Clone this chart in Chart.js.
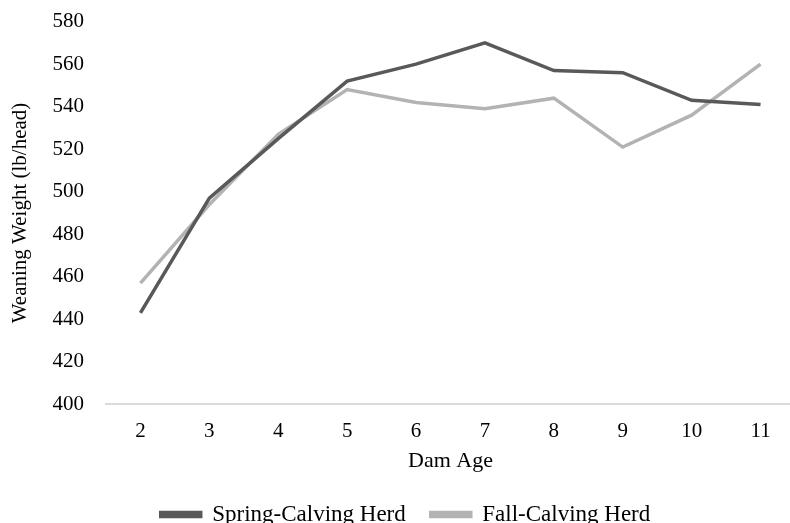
<!DOCTYPE html>
<html>
<head>
<meta charset="utf-8">
<script src="https://cdn.jsdelivr.net/npm/chart.js@4"></script>
<style>
html,body{margin:0;padding:0;background:#fff;overflow:hidden}
#wrap{position:absolute;left:0;top:-13px;width:795px;height:549px}
</style>
</head>
<body>
<div id="wrap"><canvas id="grafico" width="795" height="549"></canvas></div>
<script>
let idades=['2','3','4','5','6','7','8','9','10','11']
let pesoPrimavera=[443,497,525,552,560,570,557,556,543,541]
let pesoOutono=[457,494,527,548,542,539,544,521,536,560]
let ticksY=[400,420,440,460,480,500,520,540,560,580]

let familia='"Liberation Serif","Times New Roman",serif'

new Chart(document.getElementById('grafico'),{
type:'line',
data:{
labels:idades,
datasets:[{
label:'Spring-Calving Herd',
data:pesoPrimavera,
borderColor:'#595959',
backgroundColor:'#595959',
borderWidth:3.5,
pointRadius:0,
tension:0
},{
label:'Fall-Calving Herd',
data:pesoOutono,
borderColor:'#b3b3b3',
backgroundColor:'#b3b3b3',
borderWidth:3.5,
pointRadius:0,
tension:0
}]
},
options:{
responsive:false,
animation:false,
layout:{padding:{top:0,right:0,left:16,bottom:0}},
scales:{
x:{
offset:true,
grid:{display:false,drawTicks:false},
border:{display:true,color:'#d9d9d9',width:2},
ticks:{color:'#000',font:{family:familia,size:21},padding:14},
title:{display:true,text:'Dam Age',color:'#000',font:{family:familia,size:22},padding:{top:-10,bottom:4}}
},
y:{
min:ticksY[0],
max:ticksY[ticksY.length-1],
afterBuildTicks:s=>{s.ticks=ticksY.map(v=>({value:v}))},
afterFit:s=>{s.width=90},
grid:{display:false,drawTicks:false},
border:{display:false},
ticks:{color:'#000',font:{family:familia,size:21},padding:22},
title:{display:true,text:'Weaning Weight (lb/head)',color:'#000',font:{family:familia,size:21},padding:{top:-8,bottom:0}}
}
},
plugins:{
legend:{
position:'bottom',
labels:{
color:'#000',
font:{family:familia,size:23},
boxWidth:40,
boxHeight:4,
padding:25,
useBorderRadius:false
}
},
tooltip:{enabled:false}
}
}
})
</script>
</body>
</html>
